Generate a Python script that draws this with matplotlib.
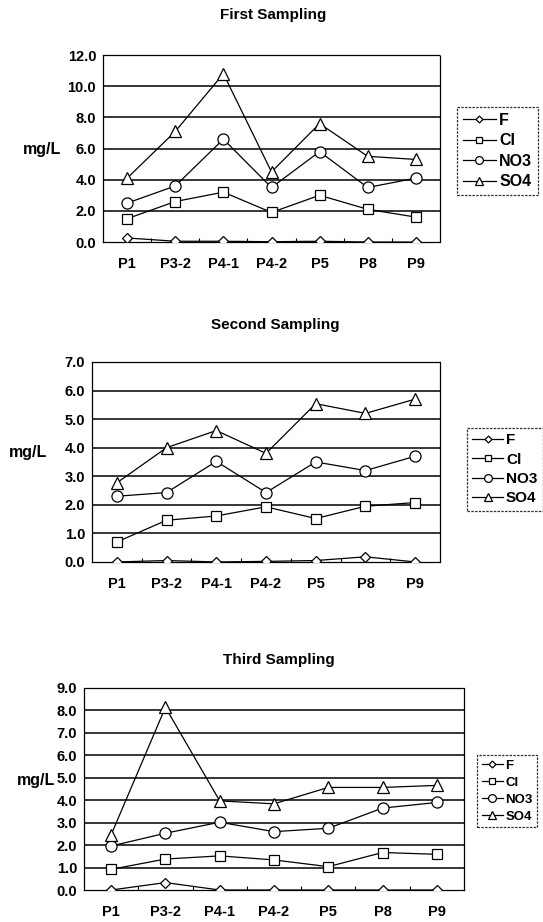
import numpy as np
import matplotlib
matplotlib.use("Agg")
import matplotlib.pyplot as plt

plt.rcParams['font.family'] = ['Liberation Sans', 'DejaVu Sans']

# Sampling points
sites = ['P1', 'P3-2', 'P4-1', 'P4-2', 'P5', 'P8', 'P9']
ions = ['F', 'Cl', 'NO3', 'SO4']

# First sampling (mg/L)
f1 = [0.26, 0.05, 0.05, 0.02, 0.05, 0.0, 0.0]
cl1 = [1.5, 2.6, 3.2, 1.9, 3.0, 2.1, 1.6]
no3_1 = [2.5, 3.6, 6.6, 3.5, 5.8, 3.5, 4.1]
so4_1 = [4.1, 7.1, 10.8, 4.5, 7.6, 5.5, 5.3]

# Second sampling (mg/L)
f2 = [0.0, 0.05, 0.0, 0.02, 0.05, 0.18, 0.0]
cl2 = [0.7, 1.46, 1.61, 1.93, 1.52, 1.95, 2.08]
no3_2 = [2.3, 2.43, 3.52, 2.43, 3.5, 3.2, 3.7]
so4_2 = [2.77, 4.0, 4.6, 3.8, 5.54, 5.2, 5.7]

# Third sampling (mg/L)
f3 = [0.0, 0.33, 0.0, 0.0, 0.0, 0.0, 0.0]
cl3 = [0.92, 1.38, 1.52, 1.34, 1.04, 1.67, 1.59]
no3_3 = [1.96, 2.53, 3.02, 2.6, 2.75, 3.65, 3.9]
so4_3 = [2.46, 8.14, 3.97, 3.84, 4.57, 4.57, 4.66]

markers = ['D', 's', 'o', '^']
msizes = [5, 6.5, 8, 8]

fig = plt.figure(figsize=(5.43, 9.22), dpi=100)

panels = [
    dict(title='First Sampling', data=[f1, cl1, no3_1, so4_1], ymax=12, step=2,
         rect=[0.190, 0.7375, 0.620, 0.2028], tx=0.503, ty=0.984, lx=0.078, ly=0.838,
         leg=(0.8416, 0.884), lfs=11.5, hl=2.1),
    dict(title='Second Sampling', data=[f2, cl2, no3_2, so4_2], ymax=7, step=1,
         rect=[0.1694, 0.3905, 0.641, 0.2169], tx=0.506, ty=0.6475, lx=0.052, ly=0.5087,
         leg=(0.860, 0.5358), lfs=11, hl=2.0),
    dict(title='Third Sampling', data=[f3, cl3, no3_3, so4_3], ymax=9, step=1,
         rect=[0.1547, 0.0347, 0.6998, 0.2191], tx=0.514, ty=0.284, lx=0.066, ly=0.153,
         leg=(0.8785, 0.181), lfs=9.5, hl=1.6),
]

x = np.arange(len(sites))
for p in panels:
    ax = fig.add_axes(p['rect'])
    handles = []
    for vals, m, ms, name in zip(p['data'], markers, msizes, ions):
        h, = ax.plot(x, vals, color='black', lw=0.9, marker=m, ms=ms,
                     mfc='white', mec='black', mew=0.9, label=name, zorder=3)
        handles.append(h)
    ax.set_xlim(-0.5, len(sites) - 0.5)
    ax.set_ylim(0, p['ymax'])
    yt = np.arange(0, p['ymax'] + 0.01, p['step'])
    ax.set_yticks(yt)
    ax.set_yticklabels(['%.1f' % v for v in yt], fontsize=10.5, fontweight='bold')
    for v in yt[1:-1]:
        ax.axhline(v, color='black', lw=1.1, zorder=1)
    ax.set_xticks(x)
    ax.set_xticklabels(sites, fontsize=10.5, fontweight='bold')
    ax.set_xticks(x[:-1] + 0.5, minor=True)
    ax.tick_params(axis='x', which='major', length=0, pad=11)
    ax.tick_params(axis='x', which='minor', length=3, direction='in', width=0.8)
    ax.tick_params(axis='y', length=0, pad=5)
    for s in ax.spines.values():
        s.set_linestyle((0, (2, 1)))
        s.set_linewidth(0.9)
    fig.text(p['tx'], p['ty'], p['title'], ha='center', va='center', fontsize=11,
             fontweight='bold')
    fig.text(p['lx'], p['ly'], 'mg/L', ha='center', va='center', fontsize=11.5,
             fontweight='bold')
    leg = fig.legend(handles=handles, loc='upper left', bbox_to_anchor=p['leg'],
                     prop={'size': p['lfs'], 'weight': 'bold'}, frameon=True,
                     fancybox=False, handlelength=p['hl'], handletextpad=0.2,
                     borderpad=0.35, labelspacing=0.35, borderaxespad=0,
                     markerscale=0.7)
    leg.get_frame().set_edgecolor('black')
    leg.get_frame().set_linestyle((0, (2, 1)))
    leg.get_frame().set_linewidth(0.9)

fig.savefig('out.png', dpi=100)
